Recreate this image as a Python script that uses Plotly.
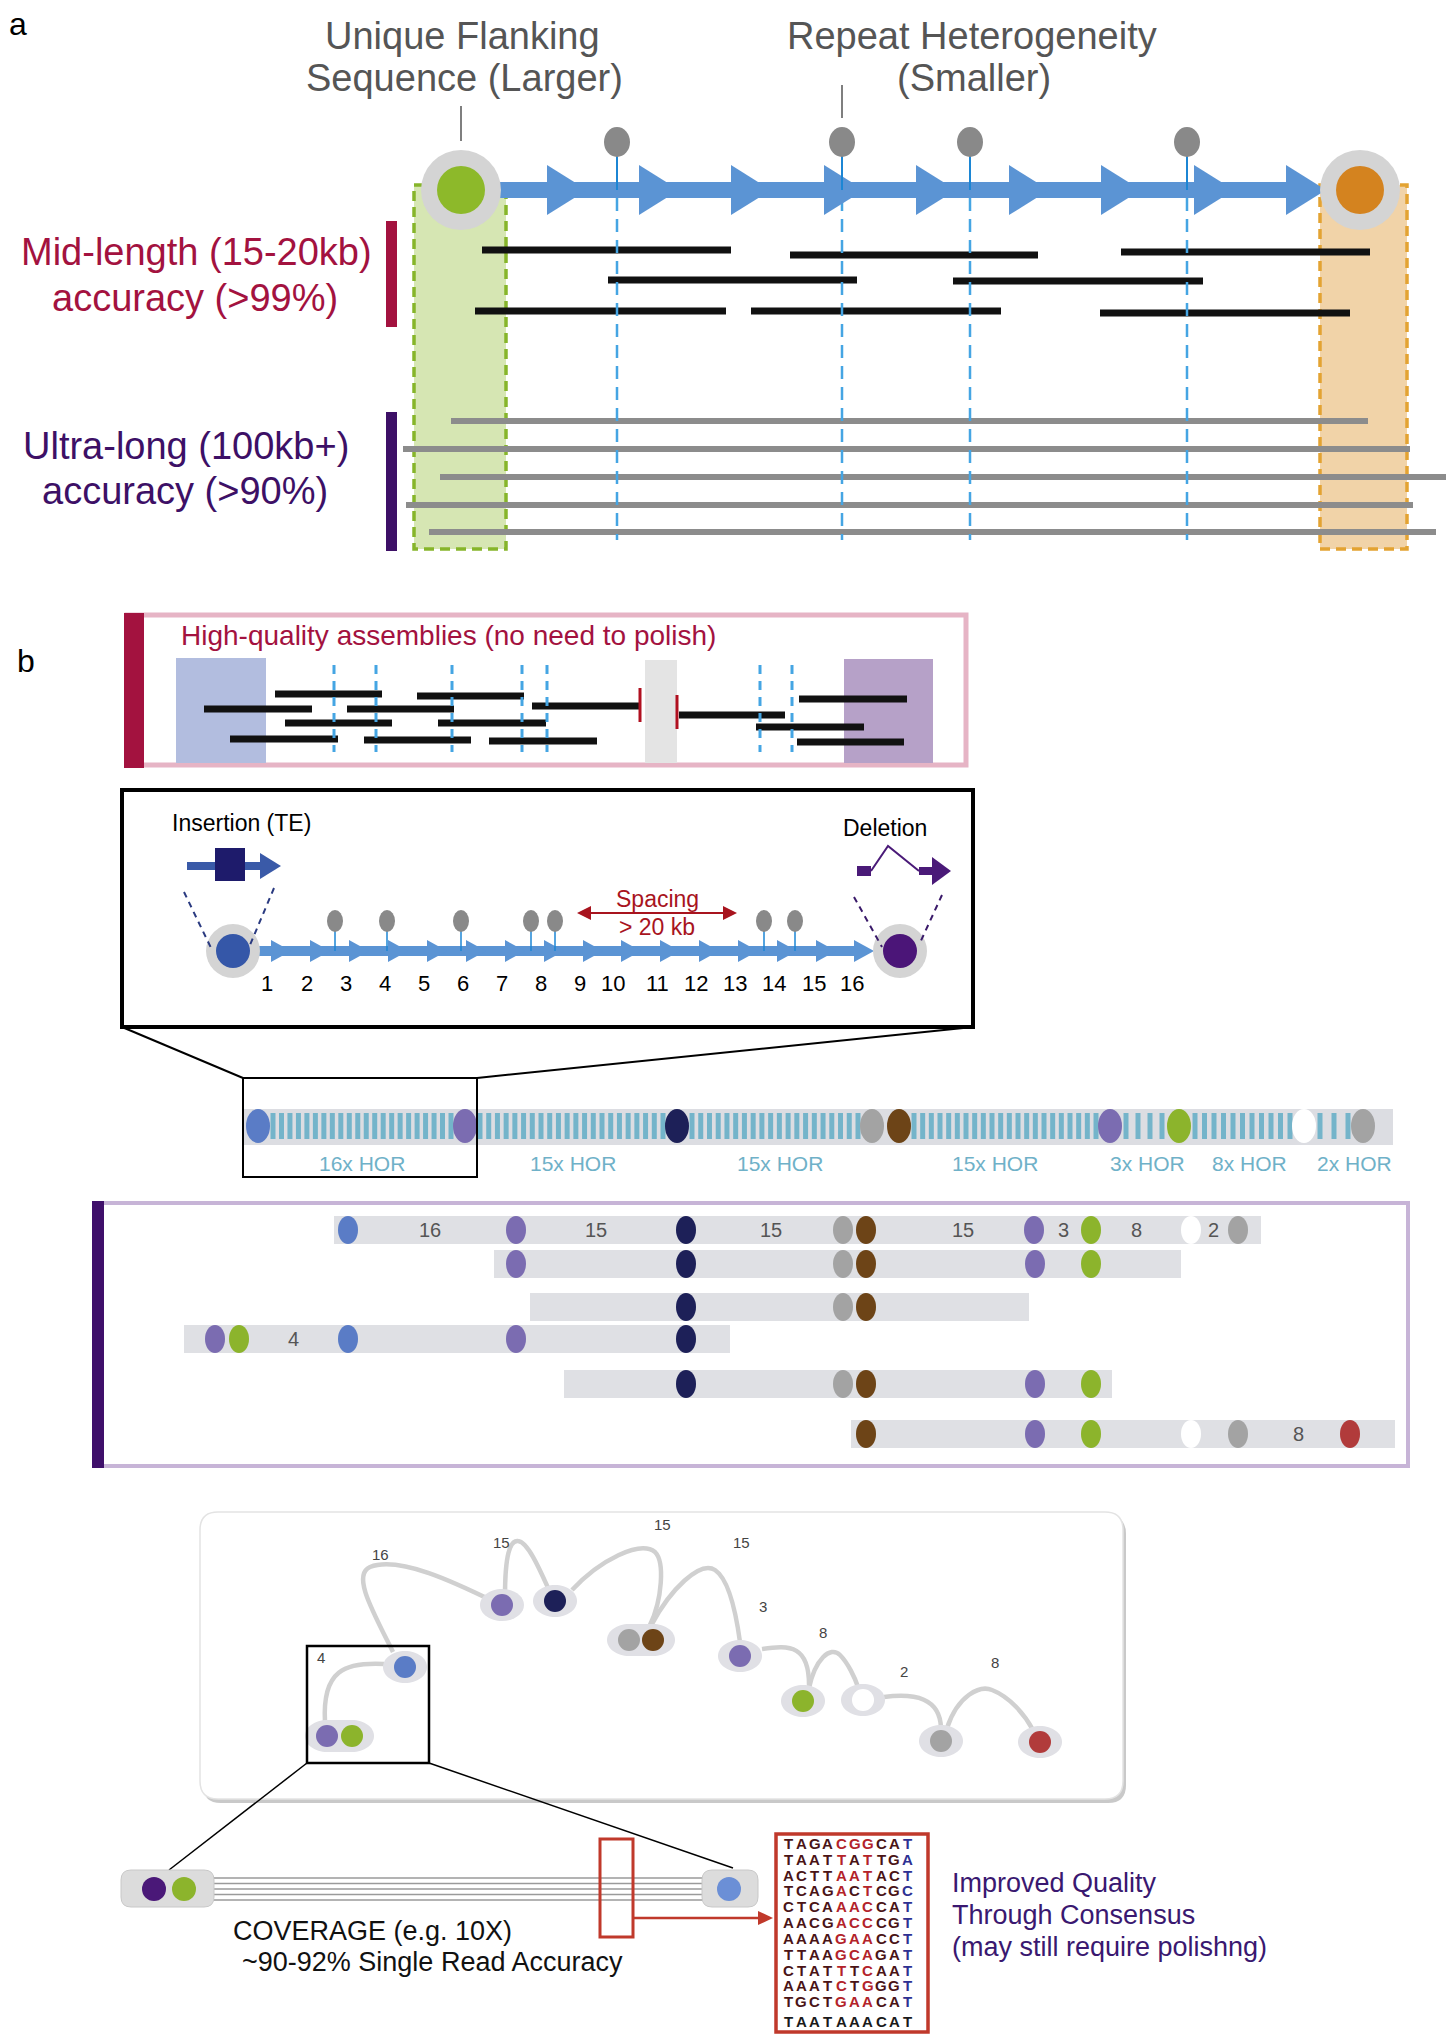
import plotly.graph_objects as go

W, H = 1449, 2040
FONT = "Liberation Sans, Arial, Helvetica, sans-serif"
NARROW = "Liberation Sans Narrow, Arial Narrow, Liberation Sans, sans-serif"

NODE_COLORS = {"blue": "#5a7cc6", "purple": "#7b6cb1", "navy": "#1d2058", "gray": "#a3a3a3",
               "brown": "#6d4417", "green": "#8cb42c", "white": "#ffffff", "red": "#b13b3b"}

# ---------------- panel a data ----------------
A_FLANK_X = [461, 1360]
A_FLANK_COLOR = ["#8db92a", "#d4831f"]
A_BACKBONE_Y = 190
A_ARROW_TIPS = [587, 679, 771, 864, 956, 1049, 1141, 1234, 1326]
A_PIN_X = [617, 842, 970, 1187]
A_MID_START = [482, 790, 1121, 608, 953, 475, 751, 1100]
A_MID_END = [731, 1038, 1370, 857, 1203, 726, 1001, 1350]
A_MID_Y = [250, 255, 252, 280, 281, 311, 311, 313]
A_ULTRA_START = [451, 403, 440, 406, 429]
A_ULTRA_END = [1368, 1410, 1446, 1413, 1436]
A_ULTRA_Y = [421, 449, 477, 505, 532]

# ---------------- panel b: high-quality assembly ----------------
B_HQ_READ_START = [275, 417, 204, 347, 532, 285, 438, 230, 364, 489, 679, 799, 756, 797]
B_HQ_READ_END = [382, 524, 312, 454, 640, 392, 546, 338, 471, 597, 785, 907, 864, 904]
B_HQ_READ_Y = [694, 696, 709, 709, 706, 723, 723, 739, 740, 741, 715, 699, 727, 742]
B_HQ_DASH_X = [334, 376, 452, 522, 547, 760, 792]

# ---------------- panel b: HOR insert ----------------
B_INS_TIPS = [291, 330, 369, 408, 447, 486, 525, 564, 603, 641, 680, 719, 758, 797, 836, 874]
B_INS_NUM_X = [267, 307, 346, 385, 424, 463, 502, 541, 580, 613, 657, 696, 735, 774, 814, 852]
B_INS_NUM = [str(i) for i in range(1, 17)]
B_INS_PIN_X = [335, 387, 461, 531, 555, 764, 795]

# ---------------- panel b: HOR array ----------------
HOR_OVAL_X = [258, 465, 677, 872, 899, 1110, 1179, 1304, 1363]
HOR_OVAL_C = ["blue", "purple", "navy", "gray", "brown", "purple", "green", "white", "gray"]
HOR_UNIT_START = [273, 480, 692, 914, 1126, 1195, 1320]
HOR_UNIT_END = [451, 663, 858, 1096, 1162, 1290, 1348]
HOR_UNIT_COUNT = [22, 22, 20, 22, 4, 11, 3]
HOR_LABELS = ["16x HOR", "15x HOR", "15x HOR", "15x HOR", "3x HOR", "8x HOR", "2x HOR"]
HOR_LABEL_X = [362, 573, 780, 995, 1147, 1249, 1354]

# ---------------- panel b: ultra-long reads ----------------
B_ROW_START = [334, 494, 530, 184, 564, 851]
B_ROW_END = [1261, 1181, 1029, 730, 1112, 1395]
B_ROW_Y = [1230, 1264, 1307, 1339, 1384, 1434]
B_ROW_OVAL_X = [[348, 516, 686, 843, 866, 1034, 1091, 1191, 1238],
                [516, 686, 843, 866, 1035, 1091],
                [686, 843, 866],
                [215, 239, 348, 516, 686],
                [686, 843, 866, 1035, 1091],
                [866, 1035, 1091, 1191, 1238, 1350]]
B_ROW_OVAL_C = [["blue", "purple", "navy", "gray", "brown", "purple", "green", "white", "gray"],
                ["purple", "navy", "gray", "brown", "purple", "green"],
                ["navy", "gray", "brown"],
                ["purple", "green", "blue", "purple", "navy"],
                ["navy", "gray", "brown", "purple", "green"],
                ["brown", "purple", "green", "white", "gray", "red"]]
B_ROW_LABELS = [["16", "15", "15", "15", "3", "8", "2"], [], [], ["4"], [], ["8"]]
B_ROW_LABEL_X = [[430, 596, 771, 963, 1063, 1136, 1213], [], [], [293], [], [1298]]

# ---------------- panel b: assembly graph ----------------
G_GROUP_X0 = [327, 405, 502, 555, 629, 740, 803, 863, 941, 1040]
G_GROUP_X1 = [352, 405, 502, 555, 653, 740, 803, 863, 941, 1040]
G_GROUP_Y = [1736, 1667, 1605, 1601, 1640, 1656, 1701, 1700, 1741, 1742]
G_DOT_X = [327, 352, 405, 502, 555, 629, 653, 740, 803, 863, 941, 1040]
G_DOT_Y = [1736, 1736, 1667, 1605, 1601, 1640, 1640, 1656, 1701, 1700, 1741, 1742]
G_DOT_C = ["purple", "green", "blue", "purple", "navy", "gray", "brown", "purple", "green", "white", "gray", "red"]
G_EDGES = [
    "M 393,1652 C 372,1610 352,1575 370,1567 C 400,1555 460,1585 497,1603",
    "M 505,1596 C 505,1555 510,1540 518,1541 C 528,1542 540,1570 549,1590",
    "M 572,1590 C 600,1560 640,1540 655,1552 C 665,1562 662,1600 650,1625",
    "M 652,1624 C 670,1590 700,1560 715,1570 C 730,1580 737,1620 740,1642",
    "M 762,1649 C 790,1645 810,1645 809,1688",
    "M 809,1688 C 815,1660 830,1645 840,1655 C 848,1663 855,1678 858,1687",
    "M 884,1697 C 915,1693 940,1698 941,1728",
    "M 947,1728 C 958,1695 980,1685 992,1690 C 1010,1697 1025,1715 1033,1730",
    "M 384,1664 C 345,1662 322,1670 325,1722",
]
G_LABELS = ["16", "15", "15", "15", "3", "8", "2", "8", "4"]
G_LABEL_X = [380, 501, 662, 741, 763, 823, 904, 995, 321]
G_LABEL_Y = [1554, 1542, 1524, 1542, 1606, 1632, 1671, 1662, 1657]

# ---------------- panel b: consensus ----------------
C_READ_Y = [1878, 1883.5, 1889, 1894.5, 1900]
SEQ_ROWS = ["TAGACGGCAT", "TAATTATTGA", "ACTTAATACT", "TCAGACTCGC", "CTCAAACCAT", "AACGACCCGT",
            "AAAAGAACCT", "TTAAGCAGAT", "CTATTTCAAT", "AAATCTGGGT", "TGCTGAACAT", "TAATAAACAT"]
SEQ_CODES = ["ddddrrrddb", "ddddrdrddb", "ddddrrrddb", "ddddrdrddb", "ddddrrrddb", "ddddrrrddb",
             "ddddrrrddb", "ddddrrrddb", "ddddrdrddb", "ddddrdrddb", "ddddrrrddb", "kkkkkkkkkk"]
SEQ_ROW_Y = [1843, 1859, 1875, 1890, 1906, 1922, 1938, 1954, 1970, 1985, 2001, 2021]
SEQ_COLORS = {"d": "#4a1416", "r": "#b3232a", "b": "#2e3192", "k": "#1a1a1a"}

shapes = []
annotations = []
NONE = "rgba(0,0,0,0)"


def rect(x0, y0, x1, y1, fill=None, color=None, width=0, dash=None):
    shapes.append(dict(type="rect", xref="x", yref="y", x0=x0, y0=y0, x1=x1, y1=y1,
                       fillcolor=fill or NONE,
                       line=dict(color=color or NONE, width=width, dash=dash)))


def ellipse(cx, cy, rx, ry, fill, color=None, width=0):
    shapes.append(dict(type="circle", xref="x", yref="y", x0=cx - rx, x1=cx + rx,
                       y0=cy - ry, y1=cy + ry, fillcolor=fill,
                       line=dict(color=color or NONE, width=width)))


def seg(x0, y0, x1, y1, color, width, dash=None):
    shapes.append(dict(type="line", xref="x", yref="y", x0=x0, y0=y0, x1=x1, y1=y1,
                       line=dict(color=color, width=width, dash=dash)))


def path(d, fill=None, color=None, width=0):
    shapes.append(dict(type="path", xref="x", yref="y", path=d, fillcolor=fill or NONE,
                       line=dict(color=color or NONE, width=width)))


def tri(p, fill):
    path("M %s,%s L %s,%s L %s,%s Z" % (p[0][0], p[0][1], p[1][0], p[1][1], p[2][0], p[2][1]), fill)


def rrect(x0, y0, x1, y1, r, fill=None, color=None, width=0):
    d = (f"M {x0+r},{y0} L {x1-r},{y0} Q {x1},{y0} {x1},{y0+r} L {x1},{y1-r} Q {x1},{y1} {x1-r},{y1} "
         f"L {x0+r},{y1} Q {x0},{y1} {x0},{y1-r} L {x0},{y0+r} Q {x0},{y0} {x0+r},{y0} Z")
    path(d, fill, color, width)


def stadium(x1, x2, y, rx, ry, fill):
    k = 0.5523
    d = (f"M {x1},{y-ry} L {x2},{y-ry} C {x2+k*rx},{y-ry} {x2+rx},{y-k*ry} {x2+rx},{y} "
         f"C {x2+rx},{y+k*ry} {x2+k*rx},{y+ry} {x2},{y+ry} L {x1},{y+ry} "
         f"C {x1-k*rx},{y+ry} {x1-rx},{y+k*ry} {x1-rx},{y} C {x1-rx},{y-k*ry} {x1-k*rx},{y-ry} {x1},{y-ry} Z")
    path(d, fill)


def ann(x, y, text, size, color="#000000", family=FONT, xanchor="center", yanchor="middle"):
    annotations.append(dict(x=x, y=y, xref="x", yref="y", text=text, showarrow=False,
                            font=dict(size=size, color=color, family=family),
                            xanchor=xanchor, yanchor=yanchor))


# ======================= PANEL a =======================
ann(18, 24, "a", 32)
ann(462, 36, "Unique Flanking", 38, "#555555")
ann(464, 78, "Sequence (Larger)", 38, "#555555")
ann(972, 36, "Repeat Heterogeneity", 38, "#555555")
ann(974, 78, "(Smaller)", 38, "#555555")
seg(461, 106, 461, 141, "#555555", 1.5)
seg(842, 85, 842, 118, "#555555", 1.5)

# flanking regions
rect(414, 185, 506, 549, "#d6e6b3", "#86b52a", 3.5, "10px,6px")
rect(1320, 185, 1407, 549, "#f1d3a8", "#e3a332", 3.5, "10px,6px")

# reads
for s, e, y in zip(A_MID_START, A_MID_END, A_MID_Y):
    seg(s, y, e, y, "#111111", 7)
for s, e, y in zip(A_ULTRA_START, A_ULTRA_END, A_ULTRA_Y):
    seg(s, y, e, y, "#8c8c8c", 6)

# dashed lines from heterogeneity markers
for x in A_PIN_X:
    seg(x, 198, x, 540, "#45a5e3", 2.5, "13px,8px")

# backbone
rect(500, A_BACKBONE_Y - 8, A_ARROW_TIPS[-1] - 40, A_BACKBONE_Y + 8, "#5b94d4")
for t in A_ARROW_TIPS:
    tri([(t - 40, A_BACKBONE_Y - 25), (t, A_BACKBONE_Y), (t - 40, A_BACKBONE_Y + 25)], "#5b94d4")
for x in A_PIN_X:
    seg(x, 156, x, 190, "#1c86d4", 2)
    ellipse(x, 142, 13, 15, "#898989")
for x, c in zip(A_FLANK_X, A_FLANK_COLOR):
    ellipse(x, A_BACKBONE_Y, 40, 40, "#d4d4d4")
    ellipse(x, A_BACKBONE_Y, 24, 24, c)

# side labels
rect(386, 221, 397, 327, "#a3123f")
ann(196, 252, "Mid-length (15-20kb)", 38, "#a3123f")
ann(195, 298, "accuracy (>99%)", 38, "#a3123f")
rect(386, 412, 397, 551, "#3d1066")
ann(186, 446, "Ultra-long (100kb+)", 38, "#3d1066")
ann(185, 491, "accuracy (>90%)", 38, "#3d1066")

# ======================= PANEL b =======================
ann(26, 661, "b", 32)

# high quality assembly box
rect(127, 615, 966, 765, None, "#e6b4c5", 5)
rect(124, 613, 144, 768, "#a3123f")
ann(179, 635, "High-quality assemblies (no need to polish)", 28, "#a3123f", xanchor="left")
rect(176, 658, 266, 763, "#b2bddf")
rect(844, 659, 933, 763, "#b6a1c8")
rect(645, 660, 677, 763, "#e4e4e4")
for s, e, y in zip(B_HQ_READ_START, B_HQ_READ_END, B_HQ_READ_Y):
    seg(s, y, e, y, "#111111", 7)
for x in B_HQ_DASH_X:
    seg(x, 665, x, 752, "#45a5e3", 3, "9px,7px")
seg(640, 688, 640, 722, "#b01020", 3)
seg(677, 695, 677, 729, "#b01020", 3)

# insert box
rect(122, 790, 973, 1027, "#ffffff", "#000000", 4)
ann(241, 823, "Insertion (TE)", 23)
ann(885, 828, "Deletion", 23)
# insertion icon
rect(187, 862, 262, 870, "#3a5aa8")
tri([(260, 853), (281, 866), (260, 879)], "#3a5aa8")
rect(215, 848, 245, 881, "#1e1b6b")
# deletion icon
rect(857, 866, 871, 876, "#4a1a78")
path("M 871,871 L 888,846 L 919,871", None, "#4a1a78", 2)
rect(919, 867, 934, 875, "#4a1a78")
tri([(932, 857), (951, 871), (932, 885)], "#4a1a78")
# backbone
by = 951
rect(250, by - 5, B_INS_TIPS[-1] - 18, by + 5, "#5b94d4")
for t in B_INS_TIPS:
    tri([(t - 20, by - 11), (t, by), (t - 20, by + 11)], "#5b94d4")
for x in B_INS_PIN_X:
    seg(x, 930, x, by, "#1c86d4", 1.5)
    ellipse(x, 921, 8, 11, "#898989")
ellipse(233, by, 27, 27, "#d4d4d4")
ellipse(233, by, 17, 17, "#3557a8")
ellipse(900, by, 27, 27, "#d4d4d4")
ellipse(900, by, 17, 17, "#4b1578")
seg(184, 892, 212, 950, "#2a3a80", 2, "6px,5px")
seg(274, 888, 250, 945, "#2a3a80", 2, "6px,5px")
seg(854, 897, 882, 947, "#3a1a6a", 2, "6px,5px")
seg(942, 895, 919, 945, "#3a1a6a", 2, "6px,5px")
for x, lab in zip(B_INS_NUM_X, B_INS_NUM):
    ann(x, 983, lab, 22)
# spacing arrow
seg(588, 913, 726, 913, "#a8141e", 2)
tri([(591, 906), (577, 913), (591, 920)], "#a8141e")
tri([(723, 906), (737, 913), (723, 920)], "#a8141e")
ann(657, 899, "Spacing", 23, "#a8141e")
ann(657, 927, "> 20 kb", 23, "#a8141e")

# zoom connector
seg(122, 1027, 243, 1078, "#000000", 2)
seg(973, 1027, 477, 1078, "#000000", 2)

# HOR array
rect(243, 1109, 1393, 1145, "#dcdde2")
for s, e, n in zip(HOR_UNIT_START, HOR_UNIT_END, HOR_UNIT_COUNT):
    step = (e - s) / (n - 1)
    for k in range(n):
        x = s + k * step
        rect(x - 2.5, 1113, x + 2.5, 1139, "#74b4ca")
for x, c in zip(HOR_OVAL_X, HOR_OVAL_C):
    ellipse(x, 1126, 12, 17, NODE_COLORS[c])
rect(243, 1078, 477, 1177, None, "#000000", 2)
for x, lab in zip(HOR_LABEL_X, HOR_LABELS):
    ann(x, 1163, lab, 21, "#6fb1c8", NARROW)

# ultra-long reads box
rect(99, 1203, 1408, 1466, None, "#c7b4d7", 4)
rect(92, 1201, 104, 1468, "#3f0f6b")
for i in range(len(B_ROW_Y)):
    y = B_ROW_Y[i]
    rect(B_ROW_START[i], y - 14, B_ROW_END[i], y + 14, "#dfe0e4")
    for x, c in zip(B_ROW_OVAL_X[i], B_ROW_OVAL_C[i]):
        ellipse(x, y, 10, 14, NODE_COLORS[c])
    for x, lab in zip(B_ROW_LABEL_X[i], B_ROW_LABELS[i]):
        ann(x, y, lab, 20, "#555555", NARROW)

# assembly graph
rrect(203, 1516, 1126, 1803, 18, "#c9c9c9")
rrect(200, 1512, 1123, 1799, 18, "#ffffff", "#e3e3e3", 1.5)
for d in G_EDGES:
    path(d, None, "#d0d0d0", 4.5)
for x0, x1, y in zip(G_GROUP_X0, G_GROUP_X1, G_GROUP_Y):
    stadium(x0, x1, y, 22, 16, "#e0e0e5")
for x, y, c in zip(G_DOT_X, G_DOT_Y, G_DOT_C):
    ellipse(x, y, 11, 11, NODE_COLORS[c])
for x, y, lab in zip(G_LABEL_X, G_LABEL_Y, G_LABELS):
    ann(x, y, lab, 15, "#444444")
rect(307, 1646, 429, 1763, None, "#000000", 2.5)
seg(307, 1763, 169, 1870, "#000000", 1.5)
seg(429, 1763, 733, 1868, "#000000", 1.5)

# consensus
for y in C_READ_Y:
    seg(214, y, 703, y, "#9a9a9a", 1.5)
rrect(121, 1870, 214, 1907, 10, "#dcdcdc", "#c8c8c8", 1)
rrect(702, 1870, 758, 1907, 10, "#dcdcdc", "#c8c8c8", 1)
ellipse(154, 1889, 12, 12, "#4a1878")
ellipse(184, 1889, 12, 12, "#8cb42c")
ellipse(729, 1889, 12, 12, "#6b8fd6")
rect(600, 1839, 633, 1937, None, "#c0392b", 3)
seg(633, 1918, 762, 1918, "#c0392b", 2.5)
tri([(758, 1911), (773, 1918), (758, 1925)], "#c0392b")
rect(776, 1834, 928, 2032, None, "#c0392b", 3.5)
for r, (row, codes) in enumerate(zip(SEQ_ROWS, SEQ_CODES)):
    for c, (ch, code) in enumerate(zip(row, codes)):
        ann(788 + c * 13.3, SEQ_ROW_Y[r], "<b>%s</b>" % ch, 15, SEQ_COLORS[code])

ann(372, 1931, "COVERAGE (e.g. 10X)", 27, "#111111")
ann(432, 1962, "~90-92% Single Read Accuracy", 27, "#111111")
ann(950, 1883, "Improved Quality", 27, "#3a1870", xanchor="left")
ann(950, 1915, "Through Consensus", 27, "#3a1870", xanchor="left")
ann(950, 1947, "(may still require polishng)", 27, "#3a1870", xanchor="left")

fig = go.Figure(go.Scatter(x=[0], y=[0], mode="markers", marker=dict(opacity=0),
                           hoverinfo="skip", showlegend=False))
fig.update_layout(width=W, height=H, margin=dict(l=0, r=0, t=0, b=0),
                  paper_bgcolor="white", plot_bgcolor="white",
                  xaxis=dict(range=[0, W], visible=False, fixedrange=True),
                  yaxis=dict(range=[H, 0], visible=False, fixedrange=True),
                  shapes=shapes, annotations=annotations, showlegend=False)
fig.write_html("out.html", config={"displayModeBar": False},
               post_script="document.body.style.margin='0';")
